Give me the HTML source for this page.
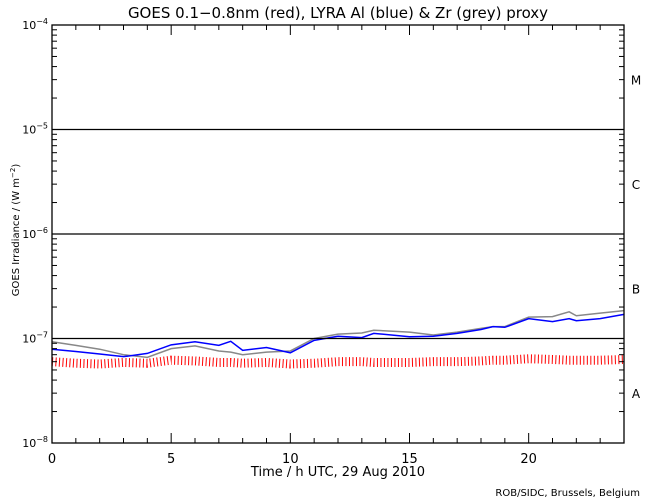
<!DOCTYPE html>
<html><head><meta charset="utf-8"><style>
body{margin:0;background:#fff}
svg{display:block;font-family:"DejaVu Sans","Liberation Sans",sans-serif}
</style></head><body>
<svg id="c" width="650" height="500" viewBox="0 0 650 500">
<text x="338" y="18" font-size="15" text-anchor="middle">GOES 0.1−0.8nm (red), LYRA Al (blue) &amp; Zr (grey) proxy</text>
<text transform="translate(19,230) rotate(-90)" font-size="10" text-anchor="middle">GOES Irradiance / (W m<tspan dy="-4" font-size="7">−2</tspan><tspan dy="4">)</tspan></text>
<text x="338" y="476" font-size="13" text-anchor="middle">Time / h UTC, 29 Aug 2010</text>
<text x="640" y="496" font-size="10" text-anchor="end">ROB/SIDC, Brussels, Belgium</text>
<g id="marks"></g>
<g id="axes"></g>
</svg>
<script>
const hours=[0,1,2,3,4,5,6,7,7.5,8,9,10,11,12,13,13.5,15,16,17,18,18.5,19,20,21,21.7,22,23,24];
const blueVals=[7.9e-8,7.5e-8,7.1e-8,6.7e-8,7.2e-8,8.7e-8,9.3e-8,8.6e-8,9.4e-8,7.7e-8,8.2e-8,7.3e-8,9.6e-8,1.05e-7,1.02e-7,1.12e-7,1.04e-7,1.05e-7,1.12e-7,1.22e-7,1.3e-7,1.28e-7,1.55e-7,1.45e-7,1.55e-7,1.48e-7,1.55e-7,1.7e-7];
const greyVals=[9.3e-8,8.6e-8,7.9e-8,7.0e-8,6.6e-8,8.0e-8,8.5e-8,7.6e-8,7.4e-8,7.0e-8,7.4e-8,7.6e-8,1.0e-7,1.1e-7,1.13e-7,1.2e-7,1.15e-7,1.08e-7,1.15e-7,1.25e-7,1.3e-7,1.3e-7,1.6e-7,1.62e-7,1.8e-7,1.65e-7,1.75e-7,1.85e-7];
const redVals=[6.0e-8,5.8e-8,5.7e-8,5.9e-8,5.8e-8,6.2e-8,6.1e-8,5.9e-8,5.9e-8,5.8e-8,5.9e-8,5.7e-8,5.8e-8,6.0e-8,6.0e-8,5.9e-8,5.9e-8,6.0e-8,6.0e-8,6.1e-8,6.2e-8,6.2e-8,6.4e-8,6.3e-8,6.2e-8,6.2e-8,6.2e-8,6.3e-8];
const xTicks=[0,5,10,15,20];
const yDecades=[-8,-7,-6,-5,-4];
const classLabels=["A","B","C","M"];
const NS="http://www.w3.org/2000/svg";
const X0=52,X1=624,Y0=443,Y1=25;
const x=h=>X0+(X1-X0)*h/24;
const y=v=>Y0-(Y0-Y1)*(Math.log10(v)+8)/4;
const marks=document.getElementById('marks'),axes=document.getElementById('axes');
function mk(p,tag,a){const e=document.createElementNS(NS,tag);for(const k in a)e.setAttribute(k,a[k]);p.appendChild(e);return e;}
function series(vals,color,name,dash,w){
 const e=mk(marks,'polyline',{points:hours.map((h,i)=>x(h)+','+y(vals[i])).join(' '),fill:'none',stroke:color,'stroke-width':w,'stroke-dasharray':dash});
 
 
}
series(redVals,'#f00','goes-series','1 2.5',9);
series(greyVals,'#888','lyra-zr-series','none',1.5);
series(blueVals,'#00f','lyra-al-series','none',1.5);
[-7,-6,-5].forEach(d=>{const e=mk(axes,'line',{x1:X0,x2:X1,y1:y(10**d),y2:y(10**d),stroke:'#000','stroke-width':1.3});
 
 });
const fr=mk(axes,'rect',{x:X0,y:Y1,width:X1-X0,height:Y0-Y1,fill:'none',stroke:'#000','stroke-width':1.3});


for(let h=0;h<=24;h++){const L=h%5==0?10:5;
 mk(axes,'line',{x1:x(h),x2:x(h),y1:Y0,y2:Y0-L,stroke:'#000'});
 mk(axes,'line',{x1:x(h),x2:x(h),y1:Y1,y2:Y1+L,stroke:'#000'});}
xTicks.forEach(t=>{const e=mk(axes,'text',{x:x(t),y:Y0+20,'font-size':13,'text-anchor':'middle'});e.textContent=t;
 
 });
yDecades.forEach((d,i)=>{
 const e=mk(axes,'text',{x:X0-4,y:y(10**d)+4,'font-size':11,'text-anchor':'end'});
 e.innerHTML='10<tspan dy="-5" font-size="8">'+(d<0?'−'+(-d):d)+'</tspan>';
 
 
 if(i<4){for(let m=2;m<=9;m++){const yy=y(m*10**d);
  mk(axes,'line',{x1:X0,x2:X0+5,y1:yy,y2:yy,stroke:'#000'});
  mk(axes,'line',{x1:X1,x2:X1-5,y1:yy,y2:yy,stroke:'#000'});}}
});
classLabels.forEach((c,i)=>{const e=mk(axes,'text',{x:636,y:y(3*10**(-8+i))+5,'font-size':12,'text-anchor':'middle'});e.textContent=c;
 
 });
</script>
</body></html>
